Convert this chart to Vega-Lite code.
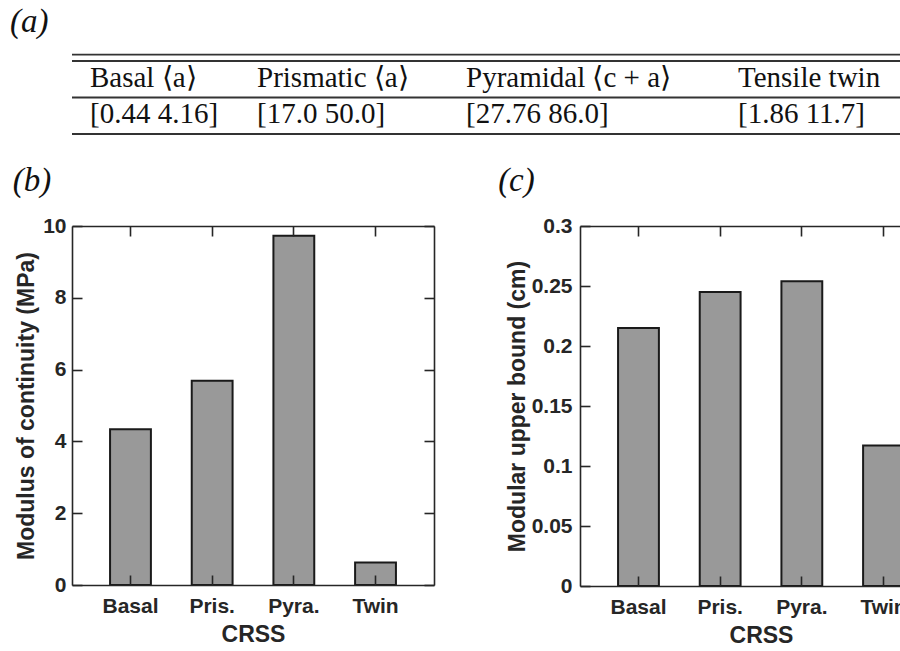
{
  "$schema": "https://vega.github.io/schema/vega-lite/v6.json",
  "background": "white",
  "padding": {"left": 10, "top": 5, "right": 0, "bottom": 0},
  "config": {
    "view": {"stroke": null},
    "font": "Liberation Sans",
    "axis": {
      "grid": false,
      "domainColor": "#262626",
      "domainWidth": 1.6,
      "tickColor": "#262626",
      "tickWidth": 1.6,
      "labelColor": "#262626",
      "titleColor": "#262626",
      "labelFont": "Liberation Sans",
      "labelFontWeight": "bold",
      "labelFontSize": 21,
      "titleFont": "Liberation Sans",
      "titleFontWeight": "bold",
      "titleFontSize": 23
    }
  },
  "columns": 1,
  "align": "none",
  "spacing": 30,
  "concat": [
    {
      "spacing": 0,
      "bounds": "flush",
      "hconcat": [
        {
          "width": 185, "height": 73,
          "title": {"text": "(a)", "anchor": "start", "frame": "group", "dx": -62, "offset": 15, "font": "Liberation Serif", "fontSize": 33, "fontStyle": "italic", "fontWeight": "normal", "color": "#111"},
          "data": {"values": [{"col": "Basal", "row": "header", "label": "Basal ⟨a⟩"}, {"col": "Basal", "row": "values", "label": "[0.44 4.16]"}]},
          "layer": [
            {"mark": {"type": "text", "align": "left", "baseline": "alphabetic", "dx": 18, "dy": 7.5, "font": "Liberation Serif", "fontSize": 29, "color": "#111"},
             "encoding": {"text": {"field": "label"}, "x": {"field": "col", "type": "nominal", "bandPosition": 0, "axis": null, "scale": {"type": "band", "paddingInner": 0, "paddingOuter": 0}}, "y": {"field": "row", "type": "nominal", "axis": null, "scale": {"domain": ["header", "values"], "paddingInner": 0, "paddingOuter": 0}}}},
            {"transform": [{"filter": "datum.row === 'header'"}], "mark": {"type": "rule", "color": "#333", "strokeWidth": 1.8}, "encoding": {"y": {"field": "row", "type": "nominal", "bandPosition": 0}}},
            {"transform": [{"filter": "datum.row === 'header'"}], "mark": {"type": "rule", "color": "#333", "strokeWidth": 1.8, "yOffset": -6.3}, "encoding": {"y": {"field": "row", "type": "nominal", "bandPosition": 0}}},
            {"transform": [{"filter": "datum.row === 'values'"}], "mark": {"type": "rule", "color": "#333", "strokeWidth": 1.8}, "encoding": {"y": {"field": "row", "type": "nominal", "bandPosition": 0}}},
            {"transform": [{"filter": "datum.row === 'values'"}], "mark": {"type": "rule", "color": "#333", "strokeWidth": 1.8}, "encoding": {"y": {"field": "row", "type": "nominal", "bandPosition": 1}}}
          ]
        },
        {
          "width": 209, "height": 73,
          "data": {"values": [{"col": "Prismatic", "row": "header", "label": "Prismatic ⟨a⟩"}, {"col": "Prismatic", "row": "values", "label": "[17.0 50.0]"}]},
          "layer": [
            {"mark": {"type": "text", "align": "left", "baseline": "alphabetic", "dy": 7.5, "font": "Liberation Serif", "fontSize": 29, "color": "#111"},
             "encoding": {"text": {"field": "label"}, "x": {"field": "col", "type": "nominal", "bandPosition": 0, "axis": null, "scale": {"type": "band", "paddingInner": 0, "paddingOuter": 0}}, "y": {"field": "row", "type": "nominal", "axis": null, "scale": {"domain": ["header", "values"], "paddingInner": 0, "paddingOuter": 0}}}},
            {"transform": [{"filter": "datum.row === 'header'"}], "mark": {"type": "rule", "color": "#333", "strokeWidth": 1.8}, "encoding": {"y": {"field": "row", "type": "nominal", "bandPosition": 0}}},
            {"transform": [{"filter": "datum.row === 'header'"}], "mark": {"type": "rule", "color": "#333", "strokeWidth": 1.8, "yOffset": -6.3}, "encoding": {"y": {"field": "row", "type": "nominal", "bandPosition": 0}}},
            {"transform": [{"filter": "datum.row === 'values'"}], "mark": {"type": "rule", "color": "#333", "strokeWidth": 1.8}, "encoding": {"y": {"field": "row", "type": "nominal", "bandPosition": 0}}},
            {"transform": [{"filter": "datum.row === 'values'"}], "mark": {"type": "rule", "color": "#333", "strokeWidth": 1.8}, "encoding": {"y": {"field": "row", "type": "nominal", "bandPosition": 1}}}
          ]
        },
        {
          "width": 272, "height": 73,
          "data": {"values": [{"col": "Pyramidal", "row": "header", "label": "Pyramidal ⟨c + a⟩"}, {"col": "Pyramidal", "row": "values", "label": "[27.76 86.0]"}]},
          "layer": [
            {"mark": {"type": "text", "align": "left", "baseline": "alphabetic", "dy": 7.5, "font": "Liberation Serif", "fontSize": 29, "color": "#111"},
             "encoding": {"text": {"field": "label"}, "x": {"field": "col", "type": "nominal", "bandPosition": 0, "axis": null, "scale": {"type": "band", "paddingInner": 0, "paddingOuter": 0}}, "y": {"field": "row", "type": "nominal", "axis": null, "scale": {"domain": ["header", "values"], "paddingInner": 0, "paddingOuter": 0}}}},
            {"transform": [{"filter": "datum.row === 'header'"}], "mark": {"type": "rule", "color": "#333", "strokeWidth": 1.8}, "encoding": {"y": {"field": "row", "type": "nominal", "bandPosition": 0}}},
            {"transform": [{"filter": "datum.row === 'header'"}], "mark": {"type": "rule", "color": "#333", "strokeWidth": 1.8, "yOffset": -6.3}, "encoding": {"y": {"field": "row", "type": "nominal", "bandPosition": 0}}},
            {"transform": [{"filter": "datum.row === 'values'"}], "mark": {"type": "rule", "color": "#333", "strokeWidth": 1.8}, "encoding": {"y": {"field": "row", "type": "nominal", "bandPosition": 0}}},
            {"transform": [{"filter": "datum.row === 'values'"}], "mark": {"type": "rule", "color": "#333", "strokeWidth": 1.8}, "encoding": {"y": {"field": "row", "type": "nominal", "bandPosition": 1}}}
          ]
        },
        {
          "width": 170, "height": 73,
          "data": {"values": [{"col": "Tensile", "row": "header", "label": "Tensile twin"}, {"col": "Tensile", "row": "values", "label": "[1.86 11.7]"}]},
          "layer": [
            {"mark": {"type": "text", "align": "left", "baseline": "alphabetic", "dy": 7.5, "font": "Liberation Serif", "fontSize": 29, "color": "#111"},
             "encoding": {"text": {"field": "label"}, "x": {"field": "col", "type": "nominal", "bandPosition": 0, "axis": null, "scale": {"type": "band", "paddingInner": 0, "paddingOuter": 0}}, "y": {"field": "row", "type": "nominal", "axis": null, "scale": {"domain": ["header", "values"], "paddingInner": 0, "paddingOuter": 0}}}},
            {"transform": [{"filter": "datum.row === 'header'"}], "mark": {"type": "rule", "color": "#333", "strokeWidth": 1.8}, "encoding": {"y": {"field": "row", "type": "nominal", "bandPosition": 0}}},
            {"transform": [{"filter": "datum.row === 'header'"}], "mark": {"type": "rule", "color": "#333", "strokeWidth": 1.8, "yOffset": -6.3}, "encoding": {"y": {"field": "row", "type": "nominal", "bandPosition": 0}}},
            {"transform": [{"filter": "datum.row === 'values'"}], "mark": {"type": "rule", "color": "#333", "strokeWidth": 1.8}, "encoding": {"y": {"field": "row", "type": "nominal", "bandPosition": 0}}},
            {"transform": [{"filter": "datum.row === 'values'"}], "mark": {"type": "rule", "color": "#333", "strokeWidth": 1.8}, "encoding": {"y": {"field": "row", "type": "nominal", "bandPosition": 1}}}
          ]
        }
      ]
    },
    {
      "spacing": 63,
      "hconcat": [
        {
          "width": 362, "height": 359,
          "title": {"text": "(b)", "anchor": "start", "frame": "bounds", "dx": -3, "offset": 17, "font": "Liberation Serif", "fontSize": 33, "fontStyle": "italic", "fontWeight": "normal", "color": "#111"},
          "data": {"values": [
            {"crss": "Basal", "value": 4.34},
            {"crss": "Pris.", "value": 5.69},
            {"crss": "Pyra.", "value": 9.73},
            {"crss": "Twin", "value": 0.63}
          ]},
          "layer": [
            {"mark": {"type": "bar", "fill": "#999999", "stroke": "#1a1a1a", "strokeWidth": 2},
             "encoding": {
               "x": {"field": "crss", "type": "nominal", "sort": null, "scale": {"paddingInner": 0.5, "paddingOuter": 0.466}, "axis": {"orient": "bottom", "title": "CRSS", "labelAngle": 0, "tickSize": -10, "labelPadding": 20, "titlePadding": 7, "zindex": 1}},
               "y": {"field": "value", "type": "quantitative", "scale": {"domain": [0, 10], "nice": false}, "axis": {"orient": "left", "title": "Modulus of continuity (MPa)", "values": [0, 2, 4, 6, 8, 10], "tickSize": -10, "labelPadding": 16, "titlePadding": 4, "zindex": 1}}
             }},
            {"mark": {"type": "bar", "opacity": 0},
             "encoding": {
               "x": {"field": "crss", "type": "nominal", "sort": null, "axis": {"orient": "top", "labels": false, "title": null, "tickSize": -10, "zindex": 1}},
               "y": {"field": "value", "type": "quantitative", "axis": {"orient": "right", "labels": false, "title": null, "values": [0, 2, 4, 6, 8, 10], "tickSize": -10, "zindex": 1}}
             }}
          ],
          "resolve": {"axis": {"x": "independent", "y": "independent"}}
        },
        {
          "width": 362, "height": 360,
          "title": {"text": "(c)", "anchor": "start", "frame": "bounds", "dx": -8, "offset": 17, "font": "Liberation Serif", "fontSize": 33, "fontStyle": "italic", "fontWeight": "normal", "color": "#111"},
          "data": {"values": [
            {"crss": "Basal", "value": 0.215},
            {"crss": "Pris.", "value": 0.245},
            {"crss": "Pyra.", "value": 0.254},
            {"crss": "Twin", "value": 0.117}
          ]},
          "layer": [
            {"mark": {"type": "bar", "fill": "#999999", "stroke": "#1a1a1a", "strokeWidth": 2},
             "encoding": {
               "x": {"field": "crss", "type": "nominal", "sort": null, "scale": {"paddingInner": 0.5, "paddingOuter": 0.466}, "axis": {"orient": "bottom", "title": "CRSS", "labelAngle": 0, "tickSize": -10, "labelPadding": 20, "titlePadding": 7, "zindex": 1}},
               "y": {"field": "value", "type": "quantitative", "scale": {"domain": [0, 0.3], "nice": false}, "axis": {"orient": "left", "title": "Modular upper bound (cm)", "values": [0, 0.05, 0.1, 0.15, 0.2, 0.25, 0.3], "format": "~g", "tickSize": -10, "labelPadding": 18, "titlePadding": 2, "zindex": 1}}
             }},
            {"mark": {"type": "bar", "opacity": 0},
             "encoding": {
               "x": {"field": "crss", "type": "nominal", "sort": null, "axis": {"orient": "top", "labels": false, "title": null, "tickSize": -10, "zindex": 1}},
               "y": {"field": "value", "type": "quantitative", "axis": {"orient": "right", "labels": false, "title": null, "values": [0, 0.05, 0.1, 0.15, 0.2, 0.25, 0.3], "tickSize": -10, "zindex": 1}}
             }}
          ],
          "resolve": {"axis": {"x": "independent", "y": "independent"}}
        }
      ]
    }
  ]
}
